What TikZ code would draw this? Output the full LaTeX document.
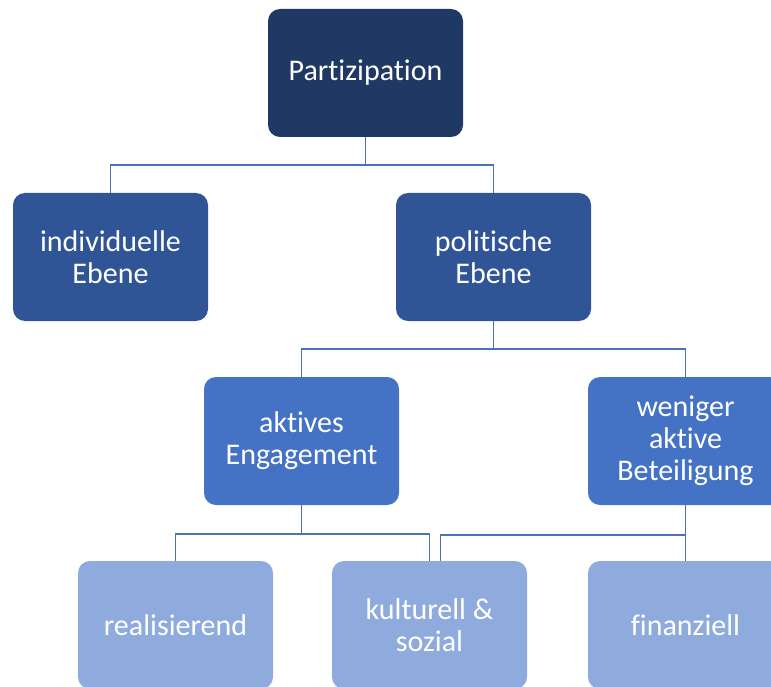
\documentclass[tikz,border=0pt]{standalone}
\usepackage{fontspec}
\setmainfont{Carlito}[Ligatures={NoCommon}]
\definecolor{lvlA}{HTML}{203864}
\definecolor{lvlB}{HTML}{2F5597}
\definecolor{lvlC}{HTML}{4472C4}
\definecolor{lvlD}{HTML}{8FAADC}
\definecolor{linkc}{HTML}{4A72B8}
\tikzset{
  box/.style={rounded corners=12pt, minimum width=195pt, minimum height=128pt,
    align=center, text=white, inner sep=0pt, font=\fontsize{30}{32}\selectfont},
  link/.style={draw=linkc, line width=1.8pt}
}
\begin{document}
\begin{tikzpicture}[x=1pt,y=-1pt]
\useasboundingbox (0,0) rectangle (771,687);
\clip (0,0) rectangle (771,687);
\node[box, fill=lvlA] (p) at (365.5,73) {Partizipation};
\node[box, fill=lvlB] (ind) at (110.5,257) {individuelle\\Ebene};
\node[box, fill=lvlB] (pol) at (493.5,257) {politische\\Ebene};
\node[box, fill=lvlC] (akt) at (301.5,441) {aktives\\Engagement};
\node[box, fill=lvlC] (wen) at (685.5,441) {weniger\\aktive\\Beteiligung};
\node[box, fill=lvlD] (rea) at (175.5,625) {realisierend};
\node[box, fill=lvlD] (kul) at (429.5,625) {kulturell \&\\sozial};
\node[box, fill=lvlD] (fin) at (685.5,625) {finanziell};
\draw[link] (p.south) -- ++(0,28) -| (ind.north);
\draw[link] (p.south) -- ++(0,28) -| (pol.north);
\draw[link] (pol.south) -- ++(0,28) -| (akt.north);
\draw[link] (pol.south) -- ++(0,28) -| (wen.north);
\draw[link] (akt.south) -- ++(0,29) -| (rea.north);
\draw[link] (akt.south) -- ++(0,29) -| (kul.north);
\draw[link] (wen.south) -- (fin.north);
\draw[link] (wen.south) ++(0,30) -| ([xshift=11pt]kul.north);
\end{tikzpicture}
\end{document}
